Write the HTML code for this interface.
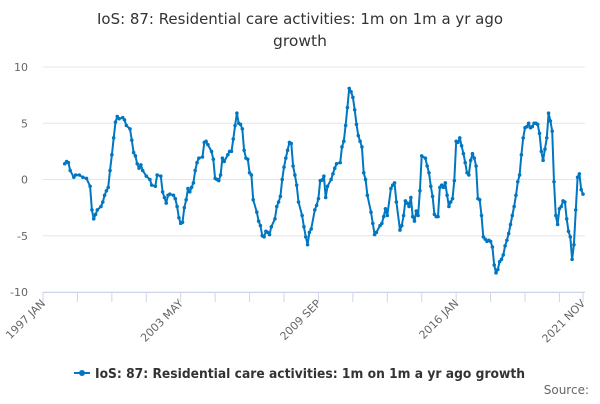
<!DOCTYPE html>
<html><head><meta charset="utf-8"><style>
body{margin:0;background:#fff;font-family:"DejaVu Sans","Liberation Sans",sans-serif;}
svg text{font-family:"DejaVu Sans","Liberation Sans",sans-serif;}
</style></head><body>
<svg id="chart" width="600" height="400" viewBox="0 0 600 400" xmlns="http://www.w3.org/2000/svg">
<text x="300" y="24" text-anchor="middle" font-size="15.5" fill="#333" textLength="406" lengthAdjust="spacingAndGlyphs">IoS: 87: Residential care activities: 1m on 1m a yr ago</text>
<text x="300" y="46" text-anchor="middle" font-size="15.5" fill="#333">growth</text>
<g id="grid"></g><g id="axes"></g><g id="series"></g>
<g>
<line x1="74" y1="373" x2="90" y2="373" stroke="#0077c0" stroke-width="2"/>
<circle cx="82" cy="373" r="3" fill="#0077c0"/>
<text x="95" y="378" font-size="13" font-weight="bold" fill="#333" textLength="430" lengthAdjust="spacingAndGlyphs">IoS: 87: Residential care activities: 1m on 1m a yr ago growth</text>
</g>
<text x="589" y="394" text-anchor="end" font-size="12" fill="#666">Source:</text>
</svg>
<script>
const yTicks=[10,5,0,-5,-10];
const xTickMonths=[0,76,152,228,298];
const xTickLabels=["1997 JAN","2003 MAY","2009 SEP","2016 JAN","2021 NOV"];
// months since 1997 JAN
const months=[12,13,14,15,17,18,20,22,24,26,27,28,29,30,32,33,34,35,36,37,38,39,40,41,42,44,45,46,48,49,50,51,52,53,54,55,57,59,60,62,63,65,66,67,68,69,70,72,73,74,75,76,77,78,79,80,81,82,83,84,85,86,88,89,90,91,93,94,95,96,97,98,99,100,102,
103,104,105,106,107,108,109,110,111,112,113,114,115,116,118,119,120,121,122,123,124,125,126,128,129,130,131,132,133,134,135,136,137,138,139,140,141,143,144,145,146,147,148,150,151,152,153,154,155,156,157,159,160,161,162,164,165,166,167,168,169,170,171,172,173,174,175,176,177,178,179,181,182,183,184,186,187,188,189,190,192,193,194,195,197,198,199,200,201,202,203,204,205,206,207,208,209,211,212,213,214,215,216,217,218,219,220,221,222,223,224,225,226,227,228,229,230,231,232,233,234,235,236,237,238,239,240,241,242,243,244,245,246,247,248,249,250,251,252,253,254,255,256,257,258,259,260,261,262,263,264,265,266,267,268,269,270,271,272,273,274,275,276,277,278,279,280,281,282,283,284,285,286,287,288,289,290,291,292,293,294,295,296,297,298];
const values=[1.4,1.6,1.5,0.8,0.2,0.4,0.4,0.2,0.1,-0.6,-2.7,-3.5,-3.1,-2.7,-2.4,-2.0,-1.4,-1.0,-0.7,0.8,2.2,3.7,5.1,5.6,5.4,5.5,5.3,4.8,4.5,3.5,2.4,2.1,1.4,1.0,1.3,0.8,0.3,0,-0.5,-0.6,0.4,0.3,-1.1,-1.6,-2.1,-1.4,-1.3,-1.4,-1.7,-2.4,-3.4,-3.9,-3.8,-2.5,-1.8,-0.8,-1.1,-0.7,-0.3,0.8,1.5,1.9,2.0,3.3,3.4,3.1,2.5,1.8,0.1,0,-0.1,0.4,1.9,1.6,2.2,
2.5,2.5,3.6,4.8,5.9,5.0,4.9,4.5,2.6,1.9,1.8,0.6,0.4,-1.8,-2.9,-3.7,-4.1,-5.0,-5.1,-4.6,-4.7,-4.9,-4.2,-3.5,-2.4,-2.0,-1.5,0,1.1,1.9,2.6,3.3,3.2,1.2,0.4,-0.5,-2.0,-3.2,-4.2,-5.1,-5.8,-4.7,-4.4,-2.7,-2.3,-1.7,-0.1,-0.05,0.3,-1.6,-0.6,0.0,0.5,1.0,1.4,1.5,2.9,3.4,4.8,6.4,8.1,7.8,7.3,6.2,4.9,3.9,3.4,2.9,0.6,0,-1.4,-2.9,-3.9,-4.9,-4.7,-4.1,-3.9,-3.3,-2.6,-3.2,-0.8,-0.5,-0.3,-2.0,-4.5,-4.1,-3.2,-1.9,-2.1,-2.4,-1.6,-3.3,-3.7,-2.8,-3.2,-1.0,2.1,1.9,1.2,0.6,-0.6,-1.5,-3.1,-3.3,-3.3,-0.7,-0.5,-0.7,-0.3,-1.4,-2.4,-2.0,-1.7,-0.1,3.4,3.3,3.7,3.0,2.3,1.5,0.6,0.4,1.7,2.3,1.9,1.2,-1.7,-1.8,-3.2,-5.1,-5.3,-5.5,-5.4,-5.5,-6.0,-7.6,-8.3,-8.0,-7.3,-7.1,-6.7,-5.9,-5.4,-4.8,-4.0,-3.2,-2.4,-1.4,-0.2,0.4,2.2,3.7,4.6,4.7,5.0,4.6,4.7,5.0,5.0,4.9,4.1,2.5,1.7,2.7,3.7,5.9,5.2,4.3,-0.2,-3.2,-4.0,-2.6,-2.4,-1.9,-2.0,-3.5,-4.6,-5.1,-7.1,-5.8,-2.7,0.2,0.5,-0.9,-1.3];

const NS="http://www.w3.org/2000/svg";
const X0=43,X1=583,MMAX=298,Y0=67,Y1=292;
function xs(m){return X0+(X1-X0)*m/MMAX;}
function ys(v){return Y0+(Y1-Y0)*(10-v)/20;}
function mk(tag,attrs,parent){const e=document.createElementNS(NS,tag);for(const k in attrs)e.setAttribute(k,attrs[k]);parent.appendChild(e);return e;}
const grid=document.getElementById('grid'),axes=document.getElementById('axes'),ser=document.getElementById('series');
yTicks.forEach(t=>{
  const l=mk('line',{x1:X0,x2:585,y1:ys(t),y2:ys(t),stroke:'#e6e6e6','stroke-width':1},grid);
  
  
  const tx=mk('text',{x:28,y:ys(t)+4,'text-anchor':'end','font-size':11,fill:'#666'},axes);
  tx.textContent=t;
  
  
});
const ax=mk('line',{x1:X0,x2:585,y1:Y1+0.5,y2:Y1+0.5,stroke:'#ccd6eb','stroke-width':1},axes);


for(let m=0;m<=MMAX;m+=19){
  const tk=mk('line',{x1:xs(m),x2:xs(m),y1:Y1,y2:Y1+10,stroke:'#ccd6eb'},axes);
  
  
}
const lastTick=mk('line',{x1:xs(MMAX),x2:xs(MMAX),y1:Y1,y2:Y1+10,stroke:'#ccd6eb'},axes);


xTickMonths.forEach((m,i)=>{
  const x=xs(m)+3,y=Y1+12;
  const tx=mk('text',{x:x,y:y,'text-anchor':'end','font-size':11,fill:'#666',transform:`rotate(-45 ${x} ${y})`},axes);
  tx.textContent=xTickLabels[i];
  
  
});
const d=months.map((m,i)=>(i?'L':'M')+xs(m).toFixed(1)+' '+ys(values[i]).toFixed(1)).join(' ');
const p=mk('path',{d:d,fill:'none',stroke:'#0077c0','stroke-width':2,'stroke-linejoin':'round'},ser);


months.forEach((m,i)=>{
  const c=mk('circle',{cx:xs(m),cy:ys(values[i]),r:1.8,fill:'#0077c0'},ser);
  
  
});
</script>
</body></html>
